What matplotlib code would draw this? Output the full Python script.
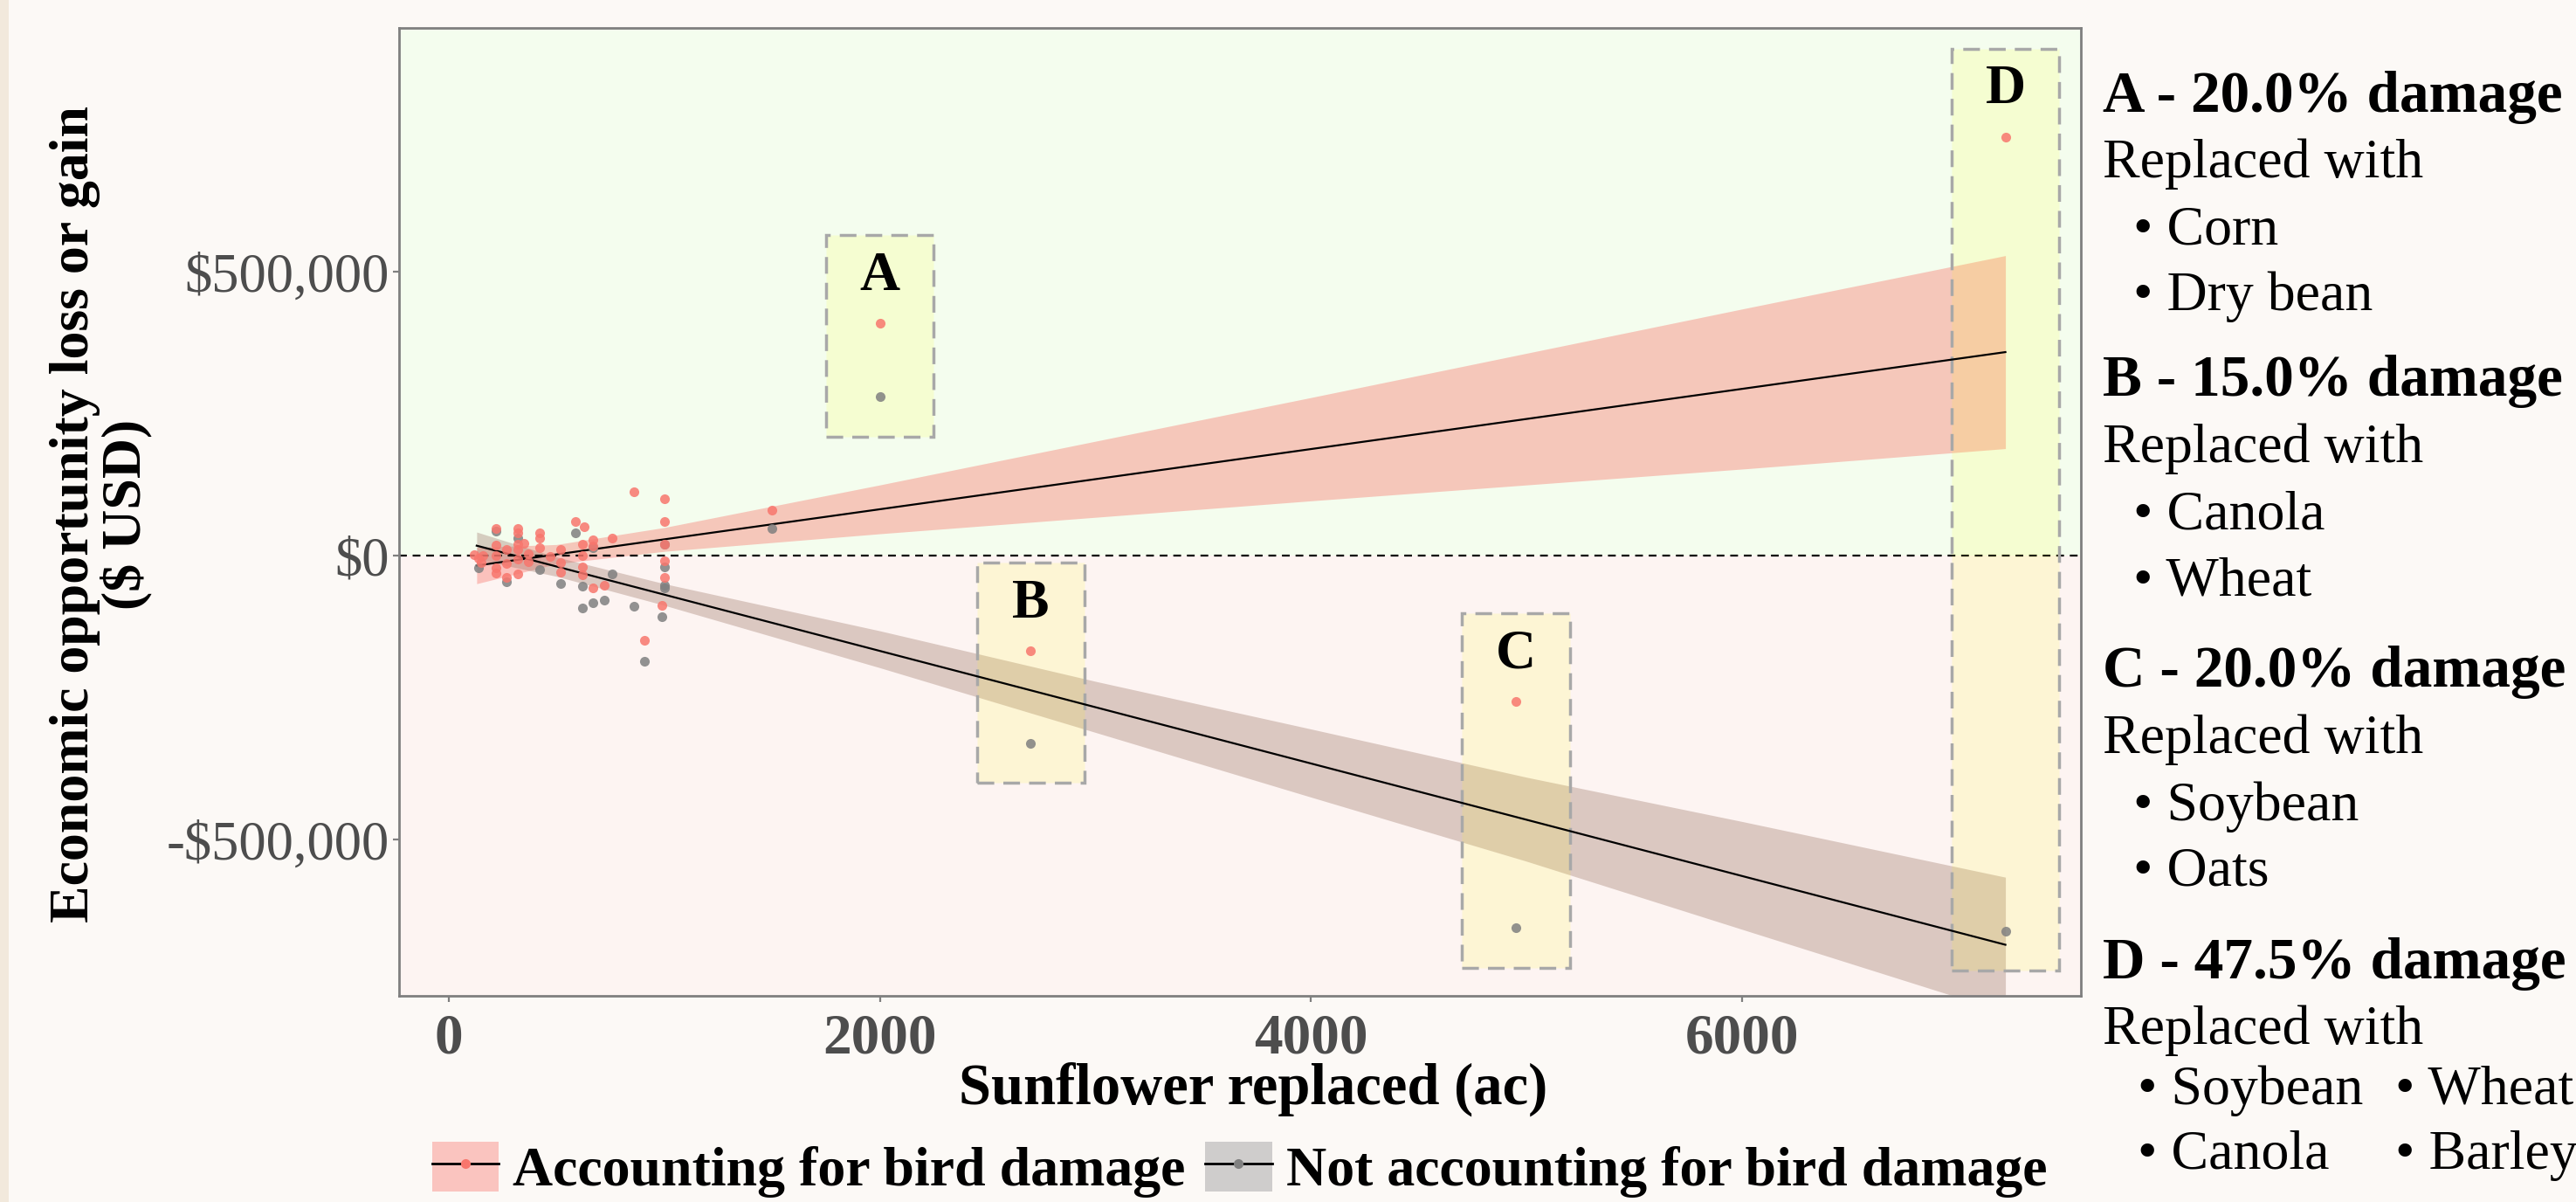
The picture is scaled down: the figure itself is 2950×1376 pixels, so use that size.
import matplotlib
matplotlib.use("Agg")
import matplotlib.pyplot as plt
from matplotlib.patches import Rectangle, Patch
from matplotlib.lines import Line2D
from matplotlib.ticker import FuncFormatter

plt.rcParams['font.family'] = ['Liberation Serif', 'DejaVu Serif']

# --- small fields: sunflower acres replaced vs opportunity loss/gain ($) ---
red_x = [120, 140, 160, 150,
         220, 220, 220, 220, 220,
         270, 270, 270,
         320, 320, 320, 320, 320, 320,
         350, 370, 370,
         420, 420, 420,
         470,
         520, 520, 520,
         590, 630,
         620, 620, 620, 620,
         670, 670,
         670, 720,
         760, 860, 910, 990,
         1000, 1000, 1000, 1000, 1000,
         1500]
red_y = [2000, -4000, 1000, -12000,
         49000, 19000, 0, -21000, -30000,
         11000, -14000, -38000,
         49000, 40000, 20000, 12000, -6000, -31000,
         22000, 4000, -10000,
         40000, 32000, 15000,
         -1000,
         12000, -11000, -29000,
         61000, 51000,
         20000, 0, -20000, -34000,
         28000, 17000,
         -57000, -52000,
         31000, 113000, -149000, -87000,
         100000, 60000, 20000, -9000, -38000,
         80000]
gray_x = [140, 220, 270, 320, 420, 520, 590, 620, 620, 670, 670, 720,
          760, 860, 910, 990, 1000, 1000, 1000, 1000, 1500]
gray_y = [-21000, 43000, -45000, 32000, -24000, -48000, 40000, -53000, -92000,
          15000, -82000, -78000, -31000, -88000, -186000, -107000,
          20000, -20000, -52000, -57000, 49000]

# --- highlighted scenarios ---
case_labels = ["A", "B", "C", "D"]
case_x = [2000, 2700, 4950, 7220]
case_with = [410000, -167000, -256000, 738000]
case_without = [280000, -330000, -655000, -661000]

# --- fitted lines and confidence bands ---
fit_x = [130, 7220]
fit_with = [-17000, 359000]
fit_without = [18000, -685000]
band_x = [130, 500, 1000, 2000, 3000, 4000, 5000, 6000, 7220]
band_with_hi = [15000, 20000, 50000, 125000, 202000, 279000, 357000, 435000, 529000]
band_with_lo = [-49000, -14000, 8000, 39000, 68000, 97000, 125000, 153000, 189000]
band_without_hi = [42000, -2000, -49000, -132000, -221000, -305000, -390000, -468000, -566000]
band_without_lo = [-6000, -36000, -87000, -197000, -311000, -425000, -538000, -658000, -804000]

# --- side panel text ---
damage_titles = ["A - 20.0% damage", "B - 15.0% damage",
                 "C - 20.0% damage", "D - 47.5% damage"]
replaced_with = [["Corn", "Dry bean"], ["Canola", "Wheat"],
                 ["Soybean", "Oats"], ["Soybean", "Wheat", "Canola", "Barley"]]

legend_labels = ["Accounting for bird damage", "Not accounting for bird damage"]

RED = "#F8766D"
GRAY = "#808080"
FIG_BG = "#FCF9F6"

W, H = 2950, 1376
fig = plt.figure(figsize=(W / 200, H / 200), dpi=200, facecolor=FIG_BG)
fig.patches.append(Rectangle((0, 0), 10 / W, 1, transform=fig.transFigure,
                             facecolor="#F2E9DC", edgecolor="none", zorder=0))
ax = fig.add_axes([457 / W, 1 - 1140 / H, (2383 - 457) / W, (1140 - 32) / H])
ax.set_facecolor("white")

ylo, yhi = -775000, 930000
ax.set_xlim(-230, 7570)
ax.set_ylim(ylo, yhi)
ax.axhspan(0, yhi, color="#F4FDEE", zorder=0, lw=0)
ax.axhspan(ylo, 0, color="#FDF4F2", zorder=0, lw=0)

ax.fill_between(band_x, band_with_lo, band_with_hi, color=RED, alpha=0.4, lw=0, zorder=1)
ax.fill_between(band_x, band_without_lo, band_without_hi, color="#9C7668", alpha=0.35, lw=0, zorder=1)

ax.axhline(0, color="black", lw=0.8, ls=(0, (4, 3)), zorder=2)

# scenario boxes
for lab, x, yw, yn in zip(case_labels, case_x, case_with, case_without):
    lo = min(yw, yn) - 70000
    hi = max(yw, yn) + 155000
    ax.add_patch(Rectangle((x - 250, lo), 500, hi - lo, facecolor=(1, 1, 0, 0.12),
                           edgecolor="#A8A8A8", lw=1.25, ls=(0, (5.5, 3)), zorder=2.5))
    ax.text(x, max(yw, yn) + 82000, lab, ha="center", va="center",
            fontsize=23, weight="bold", zorder=5)

ax.plot(fit_x, fit_with, color="black", lw=0.8, zorder=3)
ax.plot(fit_x, fit_without, color="black", lw=0.8, zorder=3)

ax.scatter(gray_x + case_x, gray_y + case_without, s=16, color=GRAY, alpha=0.85,
           lw=0, zorder=4)
ax.scatter(red_x + case_x, red_y + case_with, s=16, color=RED, alpha=0.85,
           lw=0, zorder=4.5)

ax.set_xticks([0, 2000, 4000, 6000])
ax.set_yticks([-500000, 0, 500000])
ax.yaxis.set_major_formatter(FuncFormatter(
    lambda v, p: ("-" if v < 0 else "") + "${:,.0f}".format(abs(v))))
ax.tick_params(axis="both", colors="#7F7F7F", length=2.5, width=0.8)
ax.tick_params(axis="x", labelsize=23.5, labelcolor="#4D4D4D", pad=4.5)
ax.tick_params(axis="y", labelsize=22.5, labelcolor="#4D4D4D", pad=1.5)
for t in ax.get_xticklabels():
    t.set_fontweight("bold")
for s in ax.spines.values():
    s.set_color("#7F7F7F")
    s.set_linewidth(1.0)

fig.text(116 / W, 0.572, "Economic opportunity loss or gain\n($ USD)", rotation=90,
         ha="center", va="center", fontsize=23, weight="bold", multialignment="center",
         linespacing=1.0)
fig.text(1435 / W, 1 - 1247 / H, "Sunflower replaced (ac)", ha="center", va="center",
         fontsize=24, weight="bold")

# side panel
title_y = [111, 437, 770, 1103]
line_step = 77
xh = 2408 / W
xb = 2443 / W
xb2 = 2743 / W
for title, crops, ty in zip(damage_titles, replaced_with, title_y):
    fig.text(xh, 1 - ty / H, title, ha="left", va="center", fontsize=24.2, weight="bold")
    fig.text(xh, 1 - (ty + line_step) / H, "Replaced with", ha="left", va="center", fontsize=23)
    if len(crops) == 2:
        for k, c in enumerate(crops):
            yy = ty + line_step * (2 + k) - 2 * k
            fig.text(xb, 1 - yy / H, "\u2022 " + c, ha="left", va="center", fontsize=23)
    else:
        for k in range(2):
            yy = ty + 146 + 74 * k
            fig.text(xb + 5 / W, 1 - yy / H, "\u2022 " + crops[2 * k], ha="left", va="center", fontsize=23)
            fig.text(xb2, 1 - yy / H, "\u2022 " + crops[2 * k + 1], ha="left", va="center", fontsize=23)

# legend (kept just inside the bottom edge)
h_red = (Patch(facecolor=RED, alpha=0.4, edgecolor="none"),
         Line2D([], [], color="black", lw=1.0, marker="o", markersize=4,
                markerfacecolor=RED, markeredgecolor="none"))
h_gray = (Patch(facecolor="#999999", alpha=0.45, edgecolor="none"),
          Line2D([], [], color="black", lw=1.0, marker="o", markersize=4,
                 markerfacecolor=GRAY, markeredgecolor="none"))
fig.legend([h_red, h_gray], legend_labels, loc="center", bbox_to_anchor=(0.4812, 0.027),
           ncol=2, frameon=False, prop={"size": 23, "weight": "bold"},
           handlelength=1.2, handleheight=1.0, handletextpad=0.25, columnspacing=0.35,
           borderpad=0, borderaxespad=0)

fig.savefig("out.png", dpi=200, facecolor=FIG_BG)
